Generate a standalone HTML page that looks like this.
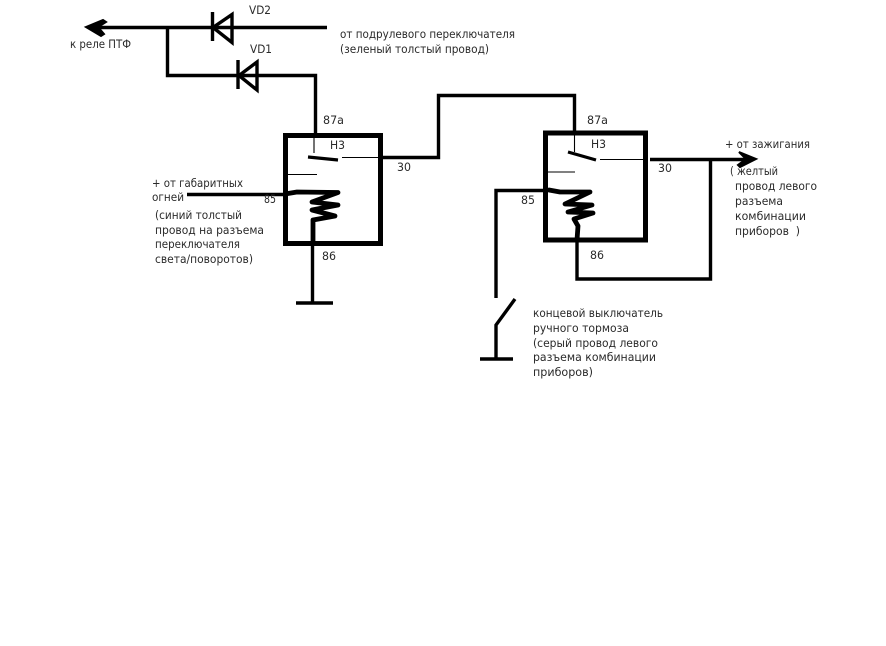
<!DOCTYPE html>
<html><head><meta charset="utf-8">
<style>
html,body{margin:0;padding:0;background:#fff;width:886px;height:646px;overflow:hidden}
svg{display:block}
text{font-family:"DejaVu Sans","Liberation Sans",sans-serif;font-size:11.5px;fill:#2a2a2a}
.w{fill:none;stroke:#000;stroke-width:3.4;stroke-linejoin:miter}
.t{fill:none;stroke:#000;stroke-width:1.1}
.c{fill:none;stroke:#000;stroke-width:4.8;stroke-linejoin:round;stroke-linecap:round}
.b{fill:none;stroke:#000;stroke-width:5}
</style></head><body>
<svg xmlns="http://www.w3.org/2000/svg" width="886" height="646" viewBox="0 0 886 646">
<rect width="886" height="646" fill="#fff"/>
<!-- top wires -->
<path class="w" d="M92 27.5H327"/>
<path class="w" d="M167.5 27V75.5H315.5V135"/>
<path d="M86 27L103 20L106 22L98 27L104 34L101 36Z" fill="#000" stroke="#000" stroke-width="2"/>
<!-- VD2 -->
<path class="w" d="M212.5 12V41"/>
<path class="w" d="M232 14.5V42.5L213 27.5Z"/>
<!-- VD1 -->
<path class="w" d="M238 60V89"/>
<path class="w" d="M257 62V90L239 75.5Z"/>
<!-- relay 1 -->
<rect class="b" x="285.5" y="135.5" width="95" height="108"/>
<path class="t" d="M314 135V153"/>
<path d="M308 157L338 160" stroke="#000" stroke-width="3.2" fill="none"/>
<path class="t" d="M342 157.5H383M287 174.5H317"/>
<path class="w" d="M383 157.5H438.5V95.5H574.5V131"/>
<path class="w" d="M187 194.5H287"/>
<path class="c" d="M285 194L297 192L338 192.5L312 202L338 205L312 210L335 216L313 220L313 241"/>
<path class="w" d="M312.5 243V303"/>
<path class="w" d="M296 303H333"/>
<!-- relay 2 -->
<rect class="b" x="545.5" y="133" width="100" height="107"/>
<path class="t" d="M574.5 133V152"/>
<path d="M568 152L596 160" stroke="#000" stroke-width="3.2" fill="none"/>
<path class="t" d="M600 159.5H645M547 172H575"/>
<path class="w" d="M650 159.5H750"/>
<path d="M739 152L756 159L740 167L738 165L746 159Z" fill="#000" stroke="#000" stroke-width="2"/>
<path class="w" d="M710.5 159V279H577V240"/>
<path class="w" d="M496 298V190.5H545"/>
<path class="c" d="M549 190L560 192L590 192L565 204L592 205L568 212L593 213L574 219L578 226L577 240"/>
<!-- switch -->
<path class="w" d="M496 359V325L515 299"/>
<path class="w" d="M480 359H513"/>
<!-- labels -->
<text x="70" y="48" textLength="61" lengthAdjust="spacingAndGlyphs">к реле ПТФ</text>
<text x="249" y="14" textLength="22" lengthAdjust="spacingAndGlyphs">VD2</text>
<text x="250" y="53" textLength="22" lengthAdjust="spacingAndGlyphs">VD1</text>
<text x="340" y="38" textLength="175" lengthAdjust="spacingAndGlyphs">от подрулевого переключателя</text>
<text x="340" y="53" textLength="149" lengthAdjust="spacingAndGlyphs">(зеленый толстый провод)</text>
<text x="323" y="124" textLength="21" lengthAdjust="spacingAndGlyphs">87а</text>
<text x="330" y="149" textLength="15" lengthAdjust="spacingAndGlyphs">Н3</text>
<text x="397" y="171" textLength="14" lengthAdjust="spacingAndGlyphs">30</text>
<text x="264" y="203" textLength="12" lengthAdjust="spacingAndGlyphs">85</text>
<text x="322" y="260" textLength="14" lengthAdjust="spacingAndGlyphs">86</text>
<text x="152" y="187" textLength="91" lengthAdjust="spacingAndGlyphs">+ от габаритных</text>
<text x="152" y="201" textLength="32" lengthAdjust="spacingAndGlyphs">огней</text>
<text x="155" y="219" textLength="87" lengthAdjust="spacingAndGlyphs">(синий толстый</text>
<text x="155" y="234" textLength="109" lengthAdjust="spacingAndGlyphs">провод на разъема</text>
<text x="155" y="248" textLength="85" lengthAdjust="spacingAndGlyphs">переключателя</text>
<text x="155" y="263" textLength="98" lengthAdjust="spacingAndGlyphs">света/поворотов)</text>
<text x="587" y="124" textLength="21" lengthAdjust="spacingAndGlyphs">87а</text>
<text x="591" y="148" textLength="15" lengthAdjust="spacingAndGlyphs">Н3</text>
<text x="658" y="172" textLength="14" lengthAdjust="spacingAndGlyphs">30</text>
<text x="521" y="204" textLength="14" lengthAdjust="spacingAndGlyphs">85</text>
<text x="590" y="259" textLength="14" lengthAdjust="spacingAndGlyphs">86</text>
<text x="725" y="148" textLength="85" lengthAdjust="spacingAndGlyphs">+ от зажигания</text>
<text x="730" y="175" textLength="48" lengthAdjust="spacingAndGlyphs">( желтый</text>
<text x="735" y="190" textLength="82" lengthAdjust="spacingAndGlyphs">провод левого</text>
<text x="735" y="205" textLength="48" lengthAdjust="spacingAndGlyphs">разъема</text>
<text x="735" y="220" textLength="71" lengthAdjust="spacingAndGlyphs">комбинации</text>
<text x="735" y="235" textLength="65" lengthAdjust="spacingAndGlyphs">приборов&#160; )</text>
<text x="533" y="317" textLength="130" lengthAdjust="spacingAndGlyphs">концевой выключатель</text>
<text x="533" y="332" textLength="96" lengthAdjust="spacingAndGlyphs">ручного тормоза</text>
<text x="533" y="347" textLength="125" lengthAdjust="spacingAndGlyphs">(серый провод левого</text>
<text x="533" y="361" textLength="123" lengthAdjust="spacingAndGlyphs">разъема комбинации</text>
<text x="533" y="376" textLength="60" lengthAdjust="spacingAndGlyphs">приборов)</text>
</svg>
</body></html>
